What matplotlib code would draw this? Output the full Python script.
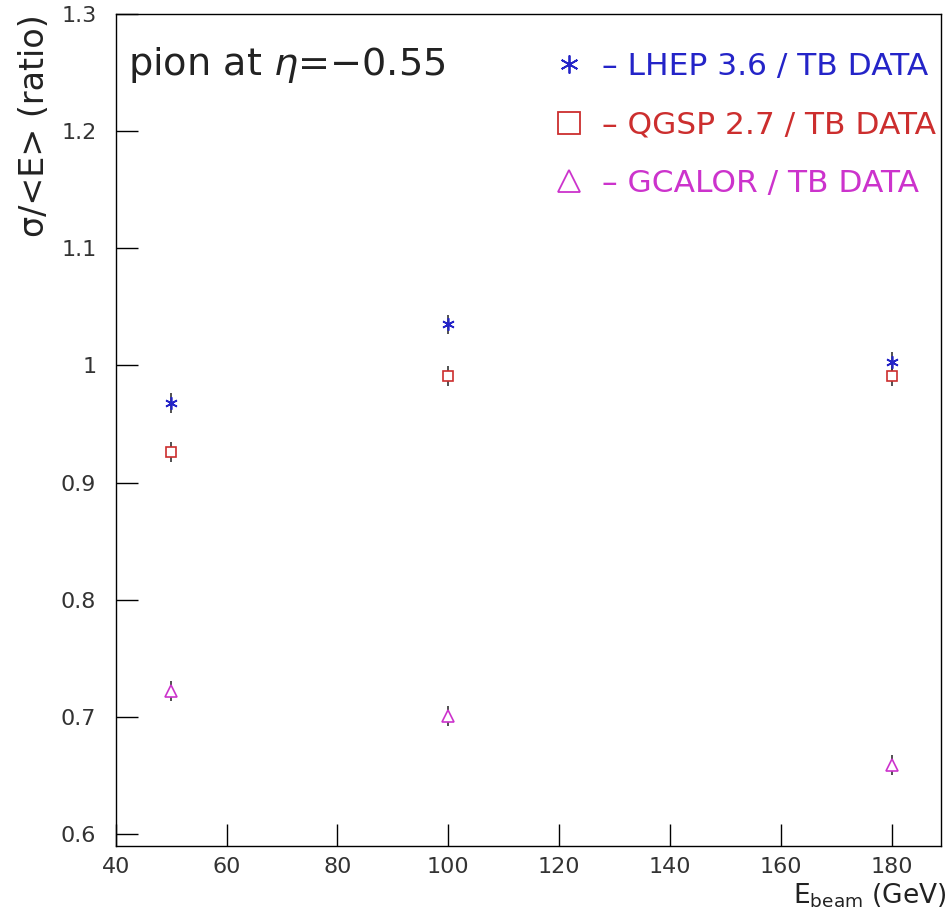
import numpy as np
import matplotlib
matplotlib.use("Agg")
import matplotlib.pyplot as plt
from matplotlib.lines import Line2D

plt.rcParams['font.family'] = ['DejaVu Sans']

# beam energies and sigma/<E> ratios (MC / test beam data)
energy = [50, 100, 180]
lhep = [0.968, 1.035, 1.003]
qgsp = [0.926, 0.991, 0.991]
gcalor = [0.722, 0.701, 0.659]
lhep_err = [0.0085, 0.0085, 0.0085]
qgsp_err = [0.0085, 0.0085, 0.0085]
gcalor_err = [0.0085, 0.0085, 0.0085]

xticks = [40, 60, 80, 100, 120, 140, 160, 180]
yticks = [0.6, 0.7, 0.8, 0.9, 1.0, 1.1, 1.2, 1.3]
yticklabels = ["0.6", "0.7", "0.8", "0.9", "1", "1.1", "1.2", "1.3"]

fig = plt.figure(figsize=(9.49, 9.17), dpi=100)
ax = fig.add_axes([0.122, 0.0774, 0.870, 0.9073])

# values, errors, marker, colour, label, size on plot, size in legend
series = [
    (lhep, lhep_err, (6, 2, 0), "#2424c8", "– LHEP 3.6 / TB DATA", 9, 13),
    (qgsp, qgsp_err, "s", "#cc2e2e", "– QGSP 2.7 / TB DATA", 7.5, 16),
    (gcalor, gcalor_err, "^", "#cc33cc", "– GCALOR / TB DATA", 8, 16),
]
handles = []
for vals, errs, mk, col, lab, ms, lms in series:
    ax.errorbar(energy, vals, yerr=errs, fmt="none", ecolor="#333333",
                elinewidth=1.2, capsize=0, zorder=2)
    face = col if mk == (6, 2, 0) else "white"
    ax.plot(energy, vals, linestyle="none", marker=mk, markersize=ms,
            markerfacecolor=face, markeredgecolor=col, markeredgewidth=1.2,
            zorder=3)
    handles.append(Line2D([], [], linestyle="none", marker=mk, markersize=lms,
                          markerfacecolor=face, markeredgecolor=col,
                          markeredgewidth=1.3, label=lab))

ax.set_xlim(40, 189)
ax.set_ylim(0.5898, 1.3)
ax.set_xticks(xticks)
ax.set_yticks(yticks)
ax.set_yticklabels(yticklabels)
ax.tick_params(direction="in", length=16, width=1, labelsize=16,
               top=False, right=False, colors="black", labelcolor="#333333")
ax.tick_params(axis="x", pad=8)
ax.tick_params(axis="y", pad=14)
for sp in ax.spines.values():
    sp.set_linewidth(1.0)

ax.text(0.015, 0.939, r"pion at $\eta$=−0.55", transform=ax.transAxes,
        fontsize=27.5, va="center", ha="left", color="#222222")

leg = ax.legend(handles=handles, loc="upper right", frameon=False,
                fontsize=22.5, handlelength=1.2, handletextpad=0.45,
                labelspacing=0.95, borderaxespad=0.2,
                bbox_to_anchor=(1.016, 0.977))
for txt, s in zip(leg.get_texts(), series):
    txt.set_color(s[3])

fig.text(0.036, 0.985, "σ/<E> (ratio)", rotation=90, fontsize=24,
         ha="center", va="top", color="#222222")
fig.text(0.997, 0.023, r"E$_{\mathregular{beam}}$ (GeV)", fontsize=19,
         ha="right", va="center", color="#222222")

fig.savefig("out.png", dpi=100)
